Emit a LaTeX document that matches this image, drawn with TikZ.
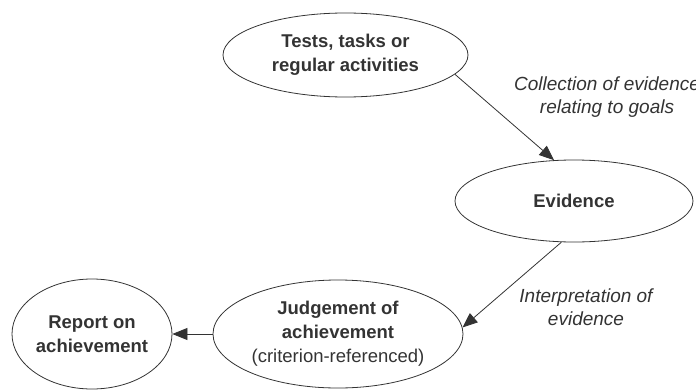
\documentclass[tikz,border=0pt]{standalone}
\usepackage{fontspec}
\setmainfont{Liberation Sans}
\usetikzlibrary{shapes.geometric,arrows.meta}
\begin{document}
\begin{tikzpicture}[x=1pt,y=-1pt,
  every node/.style={font=\fontsize{18.5}{24}\selectfont, text=black!80},
  oval/.style={ellipse, draw=black!80, line width=0.8pt, inner sep=0pt, align=center, font=\fontsize{18.5}{24}\selectfont\bfseries},
  lbl/.style={align=center, font=\fontsize{19}{23}\selectfont\itshape},
  arr/.style={draw=black!80, line width=0.8pt, -{Triangle[length=15pt,width=12pt]}}]
\useasboundingbox (0,0) rectangle (696,391);
\node[oval, minimum width=245pt, minimum height=84pt] (tests) at (345.5,55) {Tests, tasks or\\regular activities};
\node[oval, minimum width=238pt, minimum height=82pt] (evid) at (574,201) {Evidence};
\node[oval, minimum width=250pt, minimum height=108pt] (judge) at (338,334) {Judgement of\\achievement\\{\mdseries(criterion-referenced)}};
\node[oval, minimum width=160pt, minimum height=110pt] (report) at (92,334) {Report on\\achievement};
\node[lbl] (l1) at (607,97) {Collection of evidence\\relating to goals};
\node[lbl] (l2) at (586,307) {Interpretation of\\evidence};
\draw[arr] (tests.-10.5) -- (evid.116);
\draw[arr] (evid.-107) -- (judge.3);
\draw[arr] (judge.west) -- (report.east);
\end{tikzpicture}
\end{document}
